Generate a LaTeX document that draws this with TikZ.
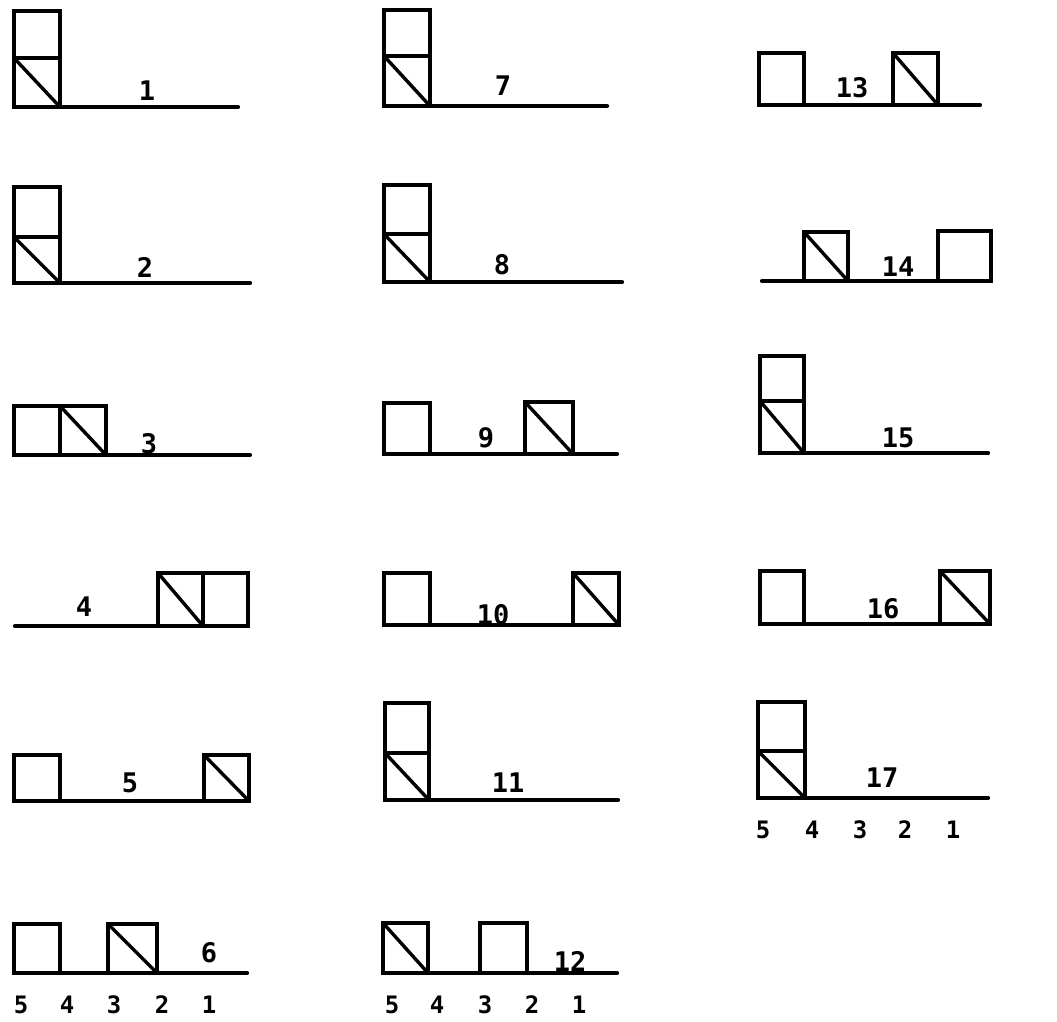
\documentclass[tikz,border=0pt]{standalone}
\usepackage{fontspec}
\newfontfamily\lblfont{DejaVu Sans Mono}
\begin{document}
\begin{tikzpicture}[x=1pt,y=-1pt,
  cell/.style={draw, line width=3.4pt, inner sep=0pt, outer sep=0pt,
    minimum width=46pt, minimum height=48pt, anchor=south west},
  diag/.style={line width=3.4pt, line cap=round},
  base/.style={line width=4.2pt, line cap=round},
  lbl/.style={inner sep=0pt, font=\lblfont\bfseries\fontsize{27}{32}\selectfont},
  num/.style={inner sep=0pt, font=\lblfont\bfseries\fontsize{24}{28}\selectfont}]
\path[use as bounding box] (0,0) rectangle (1057,1021);

% ---------- column 1 ----------
% 1
\node[cell, minimum height=49pt] (a1) at (14,107) {};
\node[cell, minimum height=47pt] (b1) at (a1.north west) {};
\draw[diag] (a1.north west) -- (a1.south east);
\coordinate (e1) at (238,107);
\draw[base] (a1.south west) -- (e1);
\node[lbl] (l1) at (147,91) {1};
% 2
\node[cell, minimum height=46pt] (a2) at (14,283) {};
\node[cell, minimum height=50pt] (b2) at (a2.north west) {};
\draw[diag] (a2.north west) -- (a2.south east);
\coordinate (e2) at (250,283);
\draw[base] (a2.south west) -- (e2);
\node[lbl] (l2) at (145,267) {2};
% 3
\node[cell, minimum height=49pt] (a3) at (14,455) {};
\node[cell, minimum height=49pt] (b3) at (a3.south east) {};
\draw[diag] (b3.north west) -- (b3.south east);
\coordinate (e3) at (250,455);
\draw[base] (a3.south west) -- (e3);
\node[lbl] (l3) at (149,444) {3};
% 4
\coordinate (s4) at (15,626);
\node[cell, minimum width=45pt, minimum height=53pt] (a4) at (158,626) {};
\node[cell, minimum width=45pt, minimum height=53pt] (b4) at (a4.south east) {};
\draw[diag] (a4.north west) -- (a4.south east);
\draw[base] (s4) -- (b4.south east);
\node[lbl] (l4) at (84,607) {4};
% 5
\node[cell, minimum height=46pt] (a5) at (14,801) {};
\node[cell, minimum width=45pt, minimum height=46pt] (b5) at (204,801) {};
\draw[diag] (b5.north west) -- (b5.south east);
\draw[base] (a5.south west) -- (b5.south east);
\node[lbl] (l5) at (130,783) {5};
% 6
\node[cell, minimum height=49pt] (a6) at (14,973) {};
\node[cell, minimum width=49pt, minimum height=49pt] (b6) at (108,973) {};
\draw[diag] (b6.north west) -- (b6.south east);
\coordinate (e6) at (247,973);
\draw[base] (a6.south west) -- (e6);
\node[lbl] (l6) at (209,953) {6};
\node[num] (n65) at (21,1005) {5};
\node[num] (n64) at (67,1005) {4};
\node[num] (n63) at (114,1005) {3};
\node[num] (n62) at (162,1005) {2};
\node[num] (n61) at (209,1005) {1};

% ---------- column 2 ----------
% 7
\node[cell, minimum height=50pt] (a7) at (384,106) {};
\node[cell, minimum height=46pt] (b7) at (a7.north west) {};
\draw[diag] (a7.north west) -- (a7.south east);
\coordinate (e7) at (607,106);
\draw[base] (a7.south west) -- (e7);
\node[lbl] (l7) at (503,86) {7};
% 8
\node[cell, minimum height=48pt] (a8) at (384,282) {};
\node[cell, minimum height=49pt] (b8) at (a8.north west) {};
\draw[diag] (a8.north west) -- (a8.south east);
\coordinate (e8) at (622,282);
\draw[base] (a8.south west) -- (e8);
\node[lbl] (l8) at (502,265) {8};
% 9
\node[cell, minimum height=51pt] (a9) at (384,454) {};
\node[cell, minimum width=48pt, minimum height=52pt] (b9) at (525,454) {};
\draw[diag] (b9.north west) -- (b9.south east);
\coordinate (e9) at (617,454);
\draw[base] (a9.south west) -- (e9);
\node[lbl] (l9) at (486,438) {9};
% 10
\node[cell, minimum height=52pt] (a10) at (384,625) {};
\node[cell, minimum width=46pt, minimum height=52pt] (b10) at (573,625) {};
\draw[diag] (b10.north west) -- (b10.south east);
\draw[base] (a10.south west) -- (b10.south east);
\node[lbl] (l10) at (493,615) {10};
% 11
\node[cell, minimum width=44pt, minimum height=47pt] (a11) at (385,800) {};
\node[cell, minimum width=44pt, minimum height=50pt] (b11) at (a11.north west) {};
\draw[diag] (a11.north west) -- (a11.south east);
\coordinate (e11) at (618,800);
\draw[base] (a11.south west) -- (e11);
\node[lbl] (l11) at (508,783) {11};
% 12
\node[cell, minimum width=45pt, minimum height=50pt] (a12) at (383,973) {};
\node[cell, minimum width=47pt, minimum height=50pt] (b12) at (480,973) {};
\draw[diag] (a12.north west) -- (a12.south east);
\coordinate (e12) at (617,973);
\draw[base] (a12.south west) -- (e12);
\node[lbl] (l12) at (570,961) {12};
\node[num] (n125) at (392,1005) {5};
\node[num] (n124) at (437,1005) {4};
\node[num] (n123) at (485,1005) {3};
\node[num] (n122) at (532,1005) {2};
\node[num] (n121) at (579,1005) {1};

% ---------- column 3 ----------
% 13
\node[cell, minimum width=45pt, minimum height=52pt] (a13) at (759,105) {};
\node[cell, minimum width=45pt, minimum height=52pt] (b13) at (893,105) {};
\draw[diag] (b13.north west) -- (b13.south east);
\coordinate (e13) at (980,105);
\draw[base] (a13.south west) -- (e13);
\node[lbl] (l13) at (852,88) {13};
% 14
\coordinate (s14) at (762,281);
\node[cell, minimum width=44pt, minimum height=49pt] (a14) at (804,281) {};
\node[cell, minimum width=53pt, minimum height=50pt] (b14) at (938,281) {};
\draw[diag] (a14.north west) -- (a14.south east);
\draw[base] (s14) -- (b14.south east);
\node[lbl] (l14) at (898,267) {14};
% 15
\node[cell, minimum width=44pt, minimum height=52pt] (a15) at (760,453) {};
\node[cell, minimum width=44pt, minimum height=45pt] (b15) at (a15.north west) {};
\draw[diag] (a15.north west) -- (a15.south east);
\coordinate (e15) at (988,453);
\draw[base] (a15.south west) -- (e15);
\node[lbl] (l15) at (898,438) {15};
% 16
\node[cell, minimum width=44pt, minimum height=53pt] (a16) at (760,624) {};
\node[cell, minimum width=50pt, minimum height=53pt] (b16) at (940,624) {};
\draw[diag] (b16.north west) -- (b16.south east);
\draw[base] (a16.south west) -- (b16.south east);
\node[lbl] (l16) at (883,609) {16};
% 17
\node[cell, minimum width=47pt, minimum height=47pt] (a17) at (758,798) {};
\node[cell, minimum width=47pt, minimum height=49pt] (b17) at (a17.north west) {};
\draw[diag] (a17.north west) -- (a17.south east);
\coordinate (e17) at (988,798);
\draw[base] (a17.south west) -- (e17);
\node[lbl] (l17) at (882,778) {17};
\node[num] (n175) at (763,830) {5};
\node[num] (n174) at (812,830) {4};
\node[num] (n173) at (860,830) {3};
\node[num] (n172) at (905,830) {2};
\node[num] (n171) at (953,830) {1};
\end{tikzpicture}
\end{document}
